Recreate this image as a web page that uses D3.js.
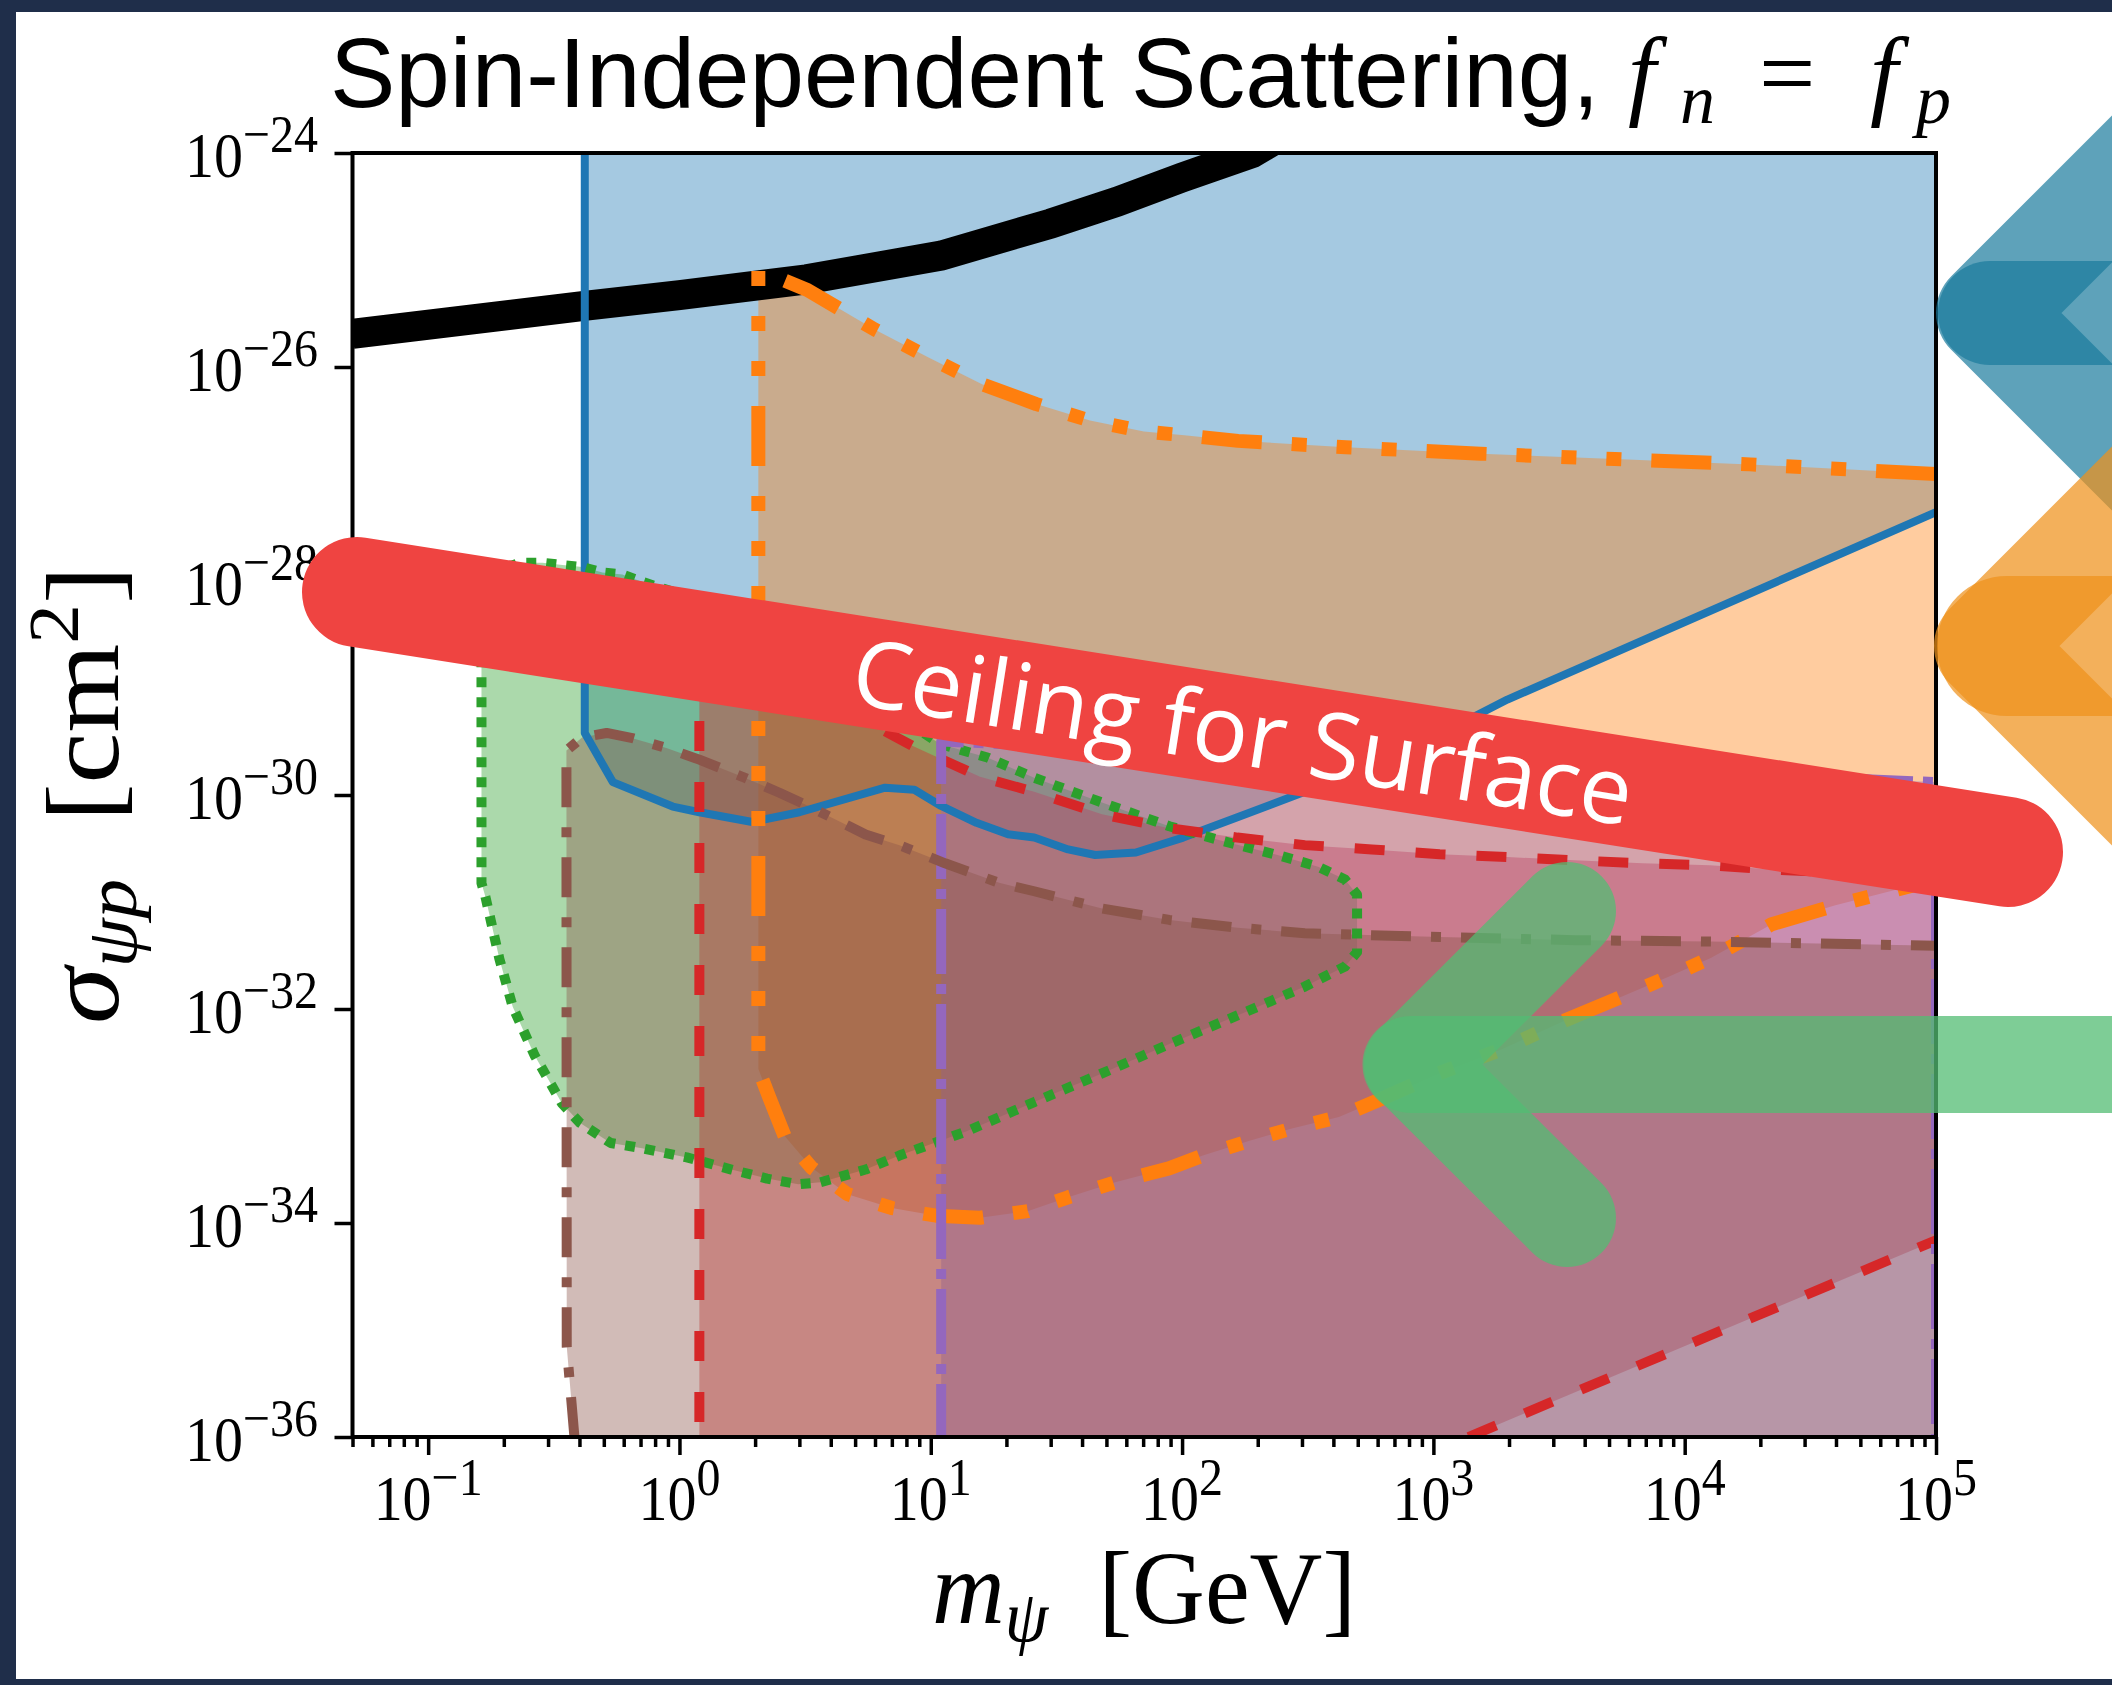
<!DOCTYPE html>
<html>
<head>
  <meta charset="utf-8">
  <style>
    body { margin: 0; background: #1f2e4a; }
    svg { display: block; }
  </style>
</head>
<body>
<svg width="2112" height="1685"></svg>
<script src="https://d3js.org/d3.v7.min.js"></script>
<script>
// tick values and their exponent labels
var massTicks = [1e-1, 1e0, 1e1, 1e2, 1e3, 1e4, 1e5];
var massExp = ["\u22121", "0", "1", "2", "3", "4", "5"];
var sigmaTicks = [1e-24, 1e-26, 1e-28, 1e-30, 1e-32, 1e-34, 1e-36];
var sigmaExp = ["\u221224", "\u221226", "\u221228", "\u221230", "\u221232", "\u221234", "\u221236"];

// thick black curve [mass GeV, sigma cm^2]
var blackCurve = [[0.05, 2.04e-26], [0.41, 3.7e-26], [1, 4.7e-26], [3.2, 6.6e-26], [11, 1.1e-25],
  [30, 2.19e-25], [55, 3.5e-25], [100, 5.9e-25], [190, 1e-24], [400, 2.8e-24]];

// blue (solid) region: vertical edge then lower boundary
var blueMass = 0.42;
var blueLower = [[0.42, 3.8e-30], [0.543, 1.32e-30], [0.94, 7.8e-31], [1.2, 6.9e-31], [1.95, 5.6e-31],
  [3.0, 6.9e-31], [6.58, 1.17e-30], [8.6, 1.12e-30], [11, 7.9e-31], [15.2, 5.5e-31], [20.3, 4.3e-31],
  [25.8, 4.0e-31], [35.2, 3.1e-31], [45.1, 2.75e-31], [65.5, 2.9e-31], [101, 4.0e-31], [166, 6.2e-31],
  [308, 1.07e-30], [569, 2.0e-30], [1060, 3.7e-30], [1970, 7.8e-30], [1e5, 4.4e-28]];

// orange (dash-dot) region
var orangeUpper = [[2.06, 8.1e-26], [3.23, 5.25e-26], [5.98, 2.24e-26], [9.8, 1.23e-26], [16, 6.9e-27],
  [26.3, 4.5e-27], [43, 3.16e-27], [70.5, 2.5e-27], [102, 2.3e-27], [167, 2.04e-27], [449, 1.78e-27],
  [1540, 1.55e-27], [5280, 1.38e-27], [18200, 1.23e-27], [1e5, 1.0e-27]];
var orangeLower = [[2.06, 2.75e-33], [2.28, 1.48e-33], [2.62, 6.5e-34], [3.35, 3.3e-34], [4.66, 1.86e-34],
  [7.0, 1.38e-34], [10.5, 1.17e-34], [15.7, 1.12e-34], [24.3, 1.29e-34], [35.2, 1.74e-34], [54.2, 2.4e-34],
  [88.7, 3.24e-34], [121, 4.27e-34], [187, 5.9e-34], [271, 7.6e-34], [421, 9.8e-34], [607, 1.41e-33],
  [1050, 2.5e-33], [1870, 4.2e-33], [3370, 7.9e-33], [5820, 1.35e-32], [8630, 2.0e-32], [12700, 3.0e-32],
  [22200, 6.2e-32], [39800, 9.3e-32], [1e5, 1.62e-31]];

// green (dotted) closed region
var greenLoop = [[0.163, 2.8e-29], [0.176, 8.3e-29], [0.201, 1.32e-28], [0.231, 1.48e-28], [0.285, 1.48e-28],
  [0.343, 1.41e-28], [0.411, 1.35e-28], [0.494, 1.2e-28], [0.593, 1.15e-28], [0.713, 9.8e-29], [1.2, 6.6e-29],
  [2.5, 2.8e-29], [5.2, 9.5e-30], [10.9, 3.0e-30], [16.8, 2.24e-30], [25.8, 1.45e-30], [48, 8.5e-31],
  [89, 5.1e-31], [146, 3.7e-31], [240, 2.75e-31], [348, 2.14e-31], [445, 1.62e-31], [497, 1.17e-31],
  [497, 7.1e-32], [497, 3.4e-32], [445, 2.5e-32], [308, 1.62e-32], [166, 8.7e-33], [89, 4.7e-33],
  [48, 2.5e-33], [25.8, 1.35e-33], [13.9, 7.2e-34], [7.5, 4.27e-34], [5.5, 3.16e-34], [3.64, 2.4e-34],
  [2.97, 2.3e-34], [2.23, 2.6e-34], [1.61, 3.16e-34], [1.07, 4.1e-34], [0.71, 5.0e-34], [0.532, 5.6e-34],
  [0.40, 8.7e-34], [0.34, 1.32e-33], [0.265, 3.7e-33], [0.217, 1.05e-32], [0.192, 2.95e-32],
  [0.169, 1.12e-31], [0.163, 1.5e-31]];

// red (dashed) region
var redMass = 1.2;
var redUpper = [[1.2, 2.3e-29], [2.73, 9.5e-30], [5.94, 4.47e-30], [8.4, 2.9e-30], [15.7, 1.48e-30],
  [25.8, 1.07e-30], [48, 6.6e-31], [89, 4.9e-31], [166, 4.0e-31], [308, 3.4e-31], [569, 3.1e-31],
  [1060, 2.8e-31], [1970, 2.63e-31], [3660, 2.45e-31], [6800, 2.3e-31], [12600, 2.2e-31],
  [23400, 2.0e-31], [1e5, 1.74e-31]];
var redLower = [[1380, 1e-36], [1e5, 6.9e-35]];

// purple (dash-dot) region
var purpleMass = 11;
var purpleUpper = [[11, 3.16e-30], [1e5, 1.32e-30]];

// brown (dash-dot) region
var brownLeft = [[0.382, 1e-36], [0.356, 7e-36], [0.355, 2.6e-30]];
var brownUpper = [[0.411, 3.47e-30], [0.513, 3.8e-30], [0.65, 3.4e-30], [0.887, 2.75e-30], [1.2, 2.14e-30],
  [1.78, 1.48e-30], [2.5, 1.05e-30], [3.29, 7.8e-31], [5.5, 4.27e-31], [7.5, 3.4e-31], [11.4, 2.3e-31],
  [18.7, 1.51e-31], [25.8, 1.26e-31], [48, 8.7e-32], [89, 6.8e-32], [166, 5.75e-32], [308, 5.1e-32],
  [1060, 4.7e-32], [3660, 4.4e-32], [12600, 4.27e-32], [1e5, 3.9e-32]];

var svg = d3.select("svg");
var serif = "'Liberation Serif', 'DejaVu Serif', serif";

// slide frame
svg.append("rect").attr("width", 2112).attr("height", 1685).attr("fill", "#1f2e4a");
svg.append("rect").attr("x", 16).attr("y", 12).attr("width", 2096).attr("height", 1667).attr("fill", "#fff");

var x = d3.scaleLog().domain([0.05, 1e5]).range([352.5, 1936]);
var y = d3.scaleLog().domain([1e-36, 1e-24]).range([1437, 153]);
var LO = 1e-37, HI = 1e-23;

svg.append("clipPath").attr("id", "plotclip").append("rect")
  .attr("x", 352.5).attr("y", 153).attr("width", 1936 - 352.5).attr("height", 1437 - 153);

var line = d3.line().x(function(d) { return x(d[0]); }).y(function(d) { return y(d[1]); });
var plot = svg.append("g").attr("clip-path", "url(#plotclip)");

var colors = {blue: "#1f77b4", orange: "#ff7f0e", green: "#2ca02c", red: "#d62728", purple: "#9467bd", brown: "#8c564b"};

// fills, in plotting order
var fills = [
  ["blue", [[blueMass, HI]].concat(blueLower, [[1e5, HI]])],
  ["orange", orangeUpper.concat(orangeLower.slice().reverse())],
  ["green", greenLoop],
  ["red", [[redMass, LO]].concat(redUpper, [redLower[1], redLower[0], [1380, LO]])],
  ["purple", [[purpleMass, LO]].concat(purpleUpper, [[1e5, LO]])],
  ["brown", brownLeft.concat(brownUpper, [[1e5, LO], [0.382, LO]])]
];
fills.forEach(function(f) {
  plot.append("path").attr("d", line(f[1]) + "Z")
    .attr("fill", colors[f[0]]).attr("fill-opacity", 0.4).attr("stroke", "none");
});

plot.append("path").attr("d", line(blackCurve))
  .attr("fill", "none").attr("stroke", "#000").attr("stroke-width", 30);

var edges = [
  [colors.blue, [[blueMass, HI]].concat(blueLower), 8, null],
  [colors.orange, orangeUpper.slice().reverse().concat(orangeLower), 14, "60,30,15,30,15,30,15,30"],
  [colors.green, greenLoop.concat([greenLoop[0]]), 10, "10,10"],
  [colors.red, [[redMass, LO]].concat(redUpper), 10, "30,31"],
  [colors.red, redLower, 10, "30,31"],
  [colors.purple, [[purpleMass, LO]].concat(purpleUpper, [[1e5, LO]]), 10, "65,10,10,10"],
  [colors.brown, brownLeft.concat(brownUpper), 10, "40,20,10,20"]
];
edges.forEach(function(e) {
  plot.append("path").attr("d", line(e[1]))
    .attr("fill", "none").attr("stroke", e[0]).attr("stroke-width", e[2])
    .attr("stroke-linejoin", "round").attr("stroke-dasharray", e[3]);
});

// axes
var minorMass = [];
[0.01, 0.1, 1, 10, 100, 1000, 10000].forEach(function(d) {
  for (var k = 2; k < 10; k++) { if (k * d >= 0.05 && k * d < 1e5) minorMass.push(k * d); }
});
var gx = svg.append("g").attr("transform", "translate(0,1437)");
gx.call(d3.axisBottom(x).tickValues(massTicks).tickSize(18).tickFormat(""));
gx.select(".domain").remove();
var gxm = svg.append("g").attr("transform", "translate(0,1437)");
gxm.call(d3.axisBottom(x).tickValues(minorMass).tickSize(10).tickFormat(""));
gxm.select(".domain").remove();
var gy = svg.append("g").attr("transform", "translate(352.5,0)");
gy.call(d3.axisLeft(y).tickValues(sigmaTicks).tickSize(18).tickFormat(""));
gy.select(".domain").remove();
svg.selectAll(".tick line").attr("stroke", "#000").attr("stroke-width", 3.5);

svg.append("rect").attr("x", 352.5).attr("y", 153).attr("width", 1936 - 352.5).attr("height", 1437 - 153)
  .attr("fill", "none").attr("stroke", "#000").attr("stroke-width", 4);

massTicks.forEach(function(v, i) {
  var t = svg.append("g").attr("transform", "translate(" + x(v) + ",1520) scale(1,1.1)")
    .append("text").attr("text-anchor", "middle").attr("font-family", serif).attr("font-size", 58);
  t.append("tspan").text("10");
  t.append("tspan").attr("font-size", 48).attr("dy", -23).text(massExp[i]);
});
sigmaTicks.forEach(function(v, i) {
  var t = svg.append("g").attr("transform", "translate(318," + (y(v) + 24) + ") scale(1,1.1)")
    .append("text").attr("text-anchor", "end").attr("font-family", serif).attr("font-size", 58);
  t.append("tspan").text("10");
  t.append("tspan").attr("font-size", 48).attr("dy", -23).text(sigmaExp[i]);
});

// title: text part and math part in one element
var tt = svg.append("text").attr("y", 107).attr("font-size", 98);
tt.append("tspan").attr("x", 330).attr("font-family", "'Liberation Sans', Arial, sans-serif")
  .text("Spin-Independent Scattering,");
tt.append("tspan").attr("x", 1628).attr("font-family", serif).attr("font-size", 100).attr("font-style", "italic").text("f");
tt.append("tspan").attr("x", 1680).attr("dy", 16).attr("font-family", serif).attr("font-size", 70).attr("font-style", "italic").text("n");
tt.append("tspan").attr("x", 1759).attr("dy", -16).attr("font-family", serif).attr("font-size", 100).text("=");
tt.append("tspan").attr("x", 1870).attr("font-family", serif).attr("font-size", 100).attr("font-style", "italic").text("f");
tt.append("tspan").attr("x", 1916).attr("dy", 16).attr("font-family", serif).attr("font-size", 70).attr("font-style", "italic").text("p");

// axis labels
var xl = svg.append("text").attr("x", 932).attr("y", 1623).attr("font-family", serif).attr("font-size", 104)
  .attr("textLength", 424).attr("lengthAdjust", "spacingAndGlyphs");
xl.append("tspan").attr("font-style", "italic").text("m");
xl.append("tspan").attr("font-style", "italic").attr("font-size", 72).attr("dy", 18).text("\u03c8");
xl.append("tspan").attr("dy", -18).text("\u2002[GeV]");

var yl = svg.append("g").attr("transform", "translate(118,1024) rotate(-90)")
  .append("text").attr("font-family", serif).attr("font-size", 104)
  .attr("textLength", 458).attr("lengthAdjust", "spacingAndGlyphs");
yl.append("tspan").attr("font-style", "italic").text("\u03c3");
yl.append("tspan").attr("font-style", "italic").attr("font-size", 72).attr("dy", 18).text("\u03c8p");
yl.append("tspan").attr("dy", -18).text("\u2002[cm");
yl.append("tspan").attr("font-size", 72).attr("dy", -40).text("2");
yl.append("tspan").attr("dy", 40).text("]");

// slide decorations drawn over the chart
var deco = svg.append("g");
function arrow(col, op, vx, vy, armW, shaftX, shaftW) {
  deco.append("path").attr("d", "M" + (vx + 330) + "," + (vy - 330) + "L" + vx + "," + vy + "L" + (vx + 330) + "," + (vy + 330))
    .attr("fill", "none").attr("stroke", col).attr("stroke-opacity", op).attr("stroke-width", armW)
    .attr("stroke-linejoin", "round").attr("stroke-linecap", "round");
  deco.append("line").attr("x1", shaftX).attr("y1", vy).attr("x2", 2400).attr("y2", vy)
    .attr("stroke", col).attr("stroke-opacity", op).attr("stroke-width", shaftW).attr("stroke-linecap", "round");
}
arrow("rgb(25,123,157)", 0.7, 1988, 313, 104, 1990, 104);
arrow("rgb(238,145,28)", 0.72, 1986, 646, 104, 2007, 140);

deco.append("line").attr("x1", 357).attr("y1", 592).attr("x2", 2008).attr("y2", 852)
  .attr("stroke", "#ef4441").attr("stroke-width", 110).attr("stroke-linecap", "round");
deco.append("g").attr("transform", "translate(1243,731.5) rotate(8.95)")
  .append("text").attr("text-anchor", "middle").attr("dy", "0.36em")
  .attr("font-family", "'Open Sans', 'Noto Sans', sans-serif").attr("font-size", 93).attr("fill", "#fff")
  .text("Ceiling for Surface");

deco.append("path").attr("d", "M1567,911L1413,1064.5L1567,1218")
  .attr("fill", "none").attr("stroke", "rgb(83,188,115)").attr("stroke-opacity", 0.75).attr("stroke-width", 98)
  .attr("stroke-linejoin", "round").attr("stroke-linecap", "round");
deco.append("line").attr("x1", 1411).attr("y1", 1064.5).attr("x2", 2400).attr("y2", 1064.5)
  .attr("stroke", "rgb(83,188,115)").attr("stroke-opacity", 0.75).attr("stroke-width", 97).attr("stroke-linecap", "round");
</script>
</body>
</html>
